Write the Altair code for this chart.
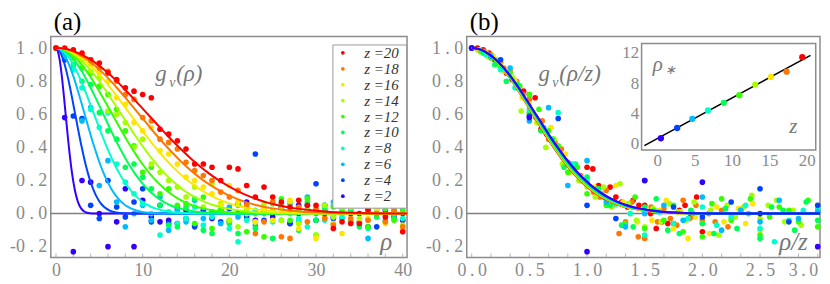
import altair as alt
import pandas as pd

FONT = "'Liberation Serif', 'Times New Roman', Times, serif"
GRAY = "#8a8a8a"

Z = [2, 4, 6, 8, 10, 12, 14, 16, 18, 20]
COLORS = ["#3300ff", "#0044ff", "#00bbff", "#00ffcc", "#00ff55",
          "#33ff00", "#a6ff00", "#ffe600", "#ff7700", "#ff0000"]
RHO = list(range(41))

G_Z2 = [1.0, 0.58, -0.23, 0.20, 0.19, 0.0, -0.20, -0.05, 0.15, -0.20, 0.08, -0.02, -0.05, -0.04, -0.06, 0.02, -0.07, 0.01, -0.03, 0.02, -0.05, 0.0, 0.07, -0.04, 0.01, -0.02, 0.03, -0.06, 0.05, 0.02, -0.04, 0.05, -0.02, 0.07, 0.0, -0.05, -0.08, 0.03, 0.0, 0.01, -0.04]
G_Z4 = [1.0, 0.93, 0.59, 0.575, 0.05, -0.03, 0.20, 0.04, -0.02, 0.07, 0.15, -0.05, 0.05, -0.06, 0.03, -0.03, -0.08, 0.02, 0.0, -0.05, 0.03, 0.06, -0.02, 0.36, -0.04, 0.01, 0.04, -0.06, 0.0, 0.05, 0.18, 0.02, -0.03, 0.07, -0.05, 0.0, 0.03, -0.08, 0.02, -0.02, 0.0]
G_Z6 = [1.0, 0.95, 0.88, 0.56, 0.64, 0.17, 0.32, 0.07, -0.08, 0.0, 0.05, -0.04, 0.10, -0.10, 0.02, -0.05, 0.08, -0.03, 0.01, -0.06, 0.04, -0.02, 0.0, -0.07, 0.03, 0.01, -0.04, 0.06, -0.05, 0.10, 0.0, 0.05, 0.07, -0.03, 0.02, 0.09, -0.15, 0.05, -0.04, 0.03, 0.04]
G_Z8 = [1.0, 0.96, 0.87, 0.76, 0.63, 0.52, 0.61, 0.30, 0.19, 0.12, 0.06, 0.0, -0.13, 0.01, -0.06, -0.03, 0.04, -0.07, -0.02, 0.05, -0.09, -0.17, -0.04, 0.02, 0.03, -0.05, 0.06, 0.0, -0.03, -0.08, 0.02, -0.04, 0.05, -0.02, 0.04, -0.07, -0.09, 0.01, 0.12, 0.0, -0.03]
G_Z10 = [1.0, 0.97, 0.90, 0.80, 0.78, 0.61, 0.50, 0.45, 0.28, 0.30, 0.22, 0.15, 0.05, -0.07, -0.08, 0.04, 0.09, -0.10, -0.12, 0.02, -0.06, -0.12, 0.03, -0.09, 0.0, -0.15, 0.04, 0.02, -0.10, 0.07, -0.04, 0.03, -0.06, 0.05, 0.01, -0.08, 0.04, -0.02, 0.06, -0.03, 0.02]
G_Z12 = [1.0, 0.98, 0.94, 0.88, 0.85, 0.77, 0.72, 0.63, 0.50, 0.41, 0.25, 0.28, 0.12, 0.15, 0.05, 0.06, -0.06, 0.10, -0.09, 0.02, -0.04, 0.05, -0.11, 0.0, -0.14, 0.06, 0.09, -0.04, 0.02, 0.09, -0.13, -0.02, 0.04, 0.02, -0.05, 0.08, -0.08, 0.0, 0.03, -0.04, 0.01]
G_Z14 = [1.0, 0.98, 0.95, 0.93, 0.86, 0.82, 0.62, 0.60, 0.55, 0.40, 0.45, 0.30, 0.25, 0.20, 0.16, 0.10, 0.16, 0.04, 0.18, 0.06, -0.04, -0.08, 0.03, -0.05, 0.06, 0.01, -0.04, 0.07, -0.06, 0.02, -0.13, 0.05, -0.02, 0.04, 0.11, -0.03, 0.05, 0.08, -0.05, 0.02, -0.07]
G_Z16 = [1.0, 0.99, 0.97, 0.95, 0.90, 0.85, 0.80, 0.70, 0.66, 0.55, 0.50, 0.52, 0.38, 0.36, 0.30, 0.22, 0.20, 0.16, 0.12, 0.05, 0.17, 0.07, 0.0, -0.05, 0.03, -0.04, 0.02, 0.08, -0.09, 0.01, -0.15, -0.02, -0.06, -0.12, 0.04, -0.05, -0.03, 0.03, -0.06, 0.06, -0.10]
G_Z18 = [1.0, 0.99, 0.98, 0.96, 0.91, 0.88, 0.86, 0.80, 0.72, 0.69, 0.58, 0.56, 0.45, 0.43, 0.39, 0.31, 0.26, 0.23, 0.20, 0.13, 0.10, 0.14, 0.05, -0.12, -0.05, 0.07, -0.14, -0.15, 0.04, -0.05, 0.03, -0.03, -0.07, 0.08, -0.03, 0.05, -0.04, 0.0, -0.05, 0.02, -0.08]
G_Z20 = [1.0, 1.0, 0.99, 0.97, 0.93, 0.91, 0.85, 0.81, 0.76, 0.74, 0.72, 0.70, 0.51, 0.48, 0.44, 0.39, 0.30, 0.30, 0.28, 0.20, 0.28, 0.27, 0.17, 0.10, 0.16, 0.10, 0.07, 0.04, 0.08, 0.05, 0.05, 0.0, -0.09, -0.05, -0.06, -0.06, 0.02, 0.05, -0.02, 0.10, -0.11]
SERIES = [G_Z2, G_Z4, G_Z6, G_Z8, G_Z10, G_Z12, G_Z14, G_Z16, G_Z18, G_Z20]

# fitted master curve g(rho/z)
U = [0, .05, .1, .15, .2, .25, .3, .35, .4, .45, .5, .55, .6, .65, .7, .75, .8, .85,
     .9, .95, 1.0, 1.05, 1.1, 1.15, 1.2, 1.25, 1.3, 1.35, 1.4, 1.5, 1.6, 1.7, 1.8,
     2.0, 2.5, 3.0, 20.0]
G = [1, .996, .983, .961, .933, .897, .855, .808, .756, .702, .646, .590, .534, .478,
     .425, .375, .327, .283, .243, .207, .175, .146, .121, .0995, .081, .065, .052,
     .0415, .033, .020, .011, .0065, .0035, .001, 0, 0, 0]
FIT_SCALE = [1.03, 1.025, 1.02, 1.015, 1.01, 1.0, 0.995, 0.99, 0.985, 0.98]

# inset: rho_* versus z
INSET_X = [0.48, 2.66, 4.69, 6.78, 8.9, 10.98, 13.1, 15.2, 17.3, 19.4]
INSET_Y = [0.74, 2.09, 3.3, 4.4, 5.4, 6.4, 7.8, 8.8, 9.5, 11.4]
LINE_X = [-1.73, 20.5]
LINE_Y = [-0.22, 11.65]
INSET_XDOM = [-2.1, 21.2]
INSET_YDOM = [-0.8, 13.2]

# minor tick positions on the bottom frames
TICKS_A = [0, 2, 4, 6, 8, 10, 12, 14, 16, 18, 20, 22, 24, 26, 28, 30, 32, 34, 36, 38, 40]
TICKS_B = [0, 0.1667, 0.3333, 0.5, 0.6667, 0.8333, 1.0, 1.1667, 1.3333, 1.5, 1.6667,
           1.8333, 2.0, 2.1667, 2.3333, 2.5, 2.6667, 2.8333, 3.0]

# ---------- tables ----------
rows = []
for z, vals in zip(Z, SERIES):
    for r, v in zip(RHO, vals):
        rows.append({"z": z, "rho": r, "g": v, "u": r / z})
pts = pd.DataFrame(rows)
pts_b = pts[pts["u"] <= 3.05].iloc[::-1].reset_index(drop=True)

crow = []
for i, (z, s) in enumerate(zip(Z, FIT_SCALE)):
    for k, (u, g) in enumerate(zip(U, G)):
        crow.append({"z": z, "k": k, "xa": u * s * z, "xb": u * s, "g": g})
curves = pd.DataFrame(crow)
curves_b = pd.concat([curves[curves["z"] == z] for z in Z[::-1]], ignore_index=True)
inset = pd.DataFrame({"z": Z, "x": INSET_X, "y": INSET_Y})
line = pd.DataFrame({"x": LINE_X, "y": LINE_Y})
frame = pd.DataFrame({"x": [INSET_XDOM[0]], "x2": [INSET_XDOM[1]],
                      "y": [INSET_YDOM[0]], "y2": [INSET_YDOM[1]]})
zero = pd.DataFrame({"y": [0.0]})
one = pd.DataFrame({"a": [0]})
ticks_a = pd.DataFrame({"t": TICKS_A})
ticks_b = pd.DataFrame({"t": TICKS_B})

Z_DESC = Z[::-1]
COL_DESC = COLORS[::-1]


def color(legend=None):
    return alt.Color("z:N", scale=alt.Scale(domain=Z_DESC, range=COL_DESC), legend=legend)


def axis(values, expr, size=18, pad=4, **kw):
    return alt.Axis(values=values, labelExpr=expr, grid=False, domain=False, ticks=False,
                    labelFont=FONT, labelFontSize=size, labelColor=GRAY, labelPadding=pad,
                    title=None, labelFlush=False, labelOverlap=False, **kw)


def txt(s, x, y, size=22, italic=True, color="#777777"):
    return alt.Chart(one).mark_text(
        text=s, align="left", baseline="alphabetic", font=FONT, fontSize=size,
        fontStyle="italic" if italic else "normal", color=color
    ).encode(x=alt.value(x), y=alt.value(y))


YEXPR = "replace(replace(format(datum.value, '.1f'), '\u2212', '-'), '.', ' . ')"
Y_AX = axis([-0.2, 0, 0.2, 0.4, 0.6, 0.8, 1.0], YEXPR)
Y_SC = alt.Scale(domain=[-0.265, 1.07], nice=False, zero=False)
TITLE_KW = dict(anchor="start", frame="group", font=FONT, fontSize=25,
                fontWeight="normal", color="black", offset=2, dx=3)

# ---------- panel (a) ----------
xa_sc = alt.Scale(domain=[-0.6, 40.5], nice=False, zero=False)
xa_ax = axis([0, 10, 20, 30, 40], "datum.label", pad=4)
legend = alt.Legend(orient="none", legendX=283, legendY=8, title=None,
                    symbolType="circle", symbolSize=14, symbolStrokeWidth=0,
                    labelFont=FONT, labelFontStyle="italic", labelFontSize=15,
                    labelColor="#333333", labelExpr="'z  =' + datum.label",
                    clipHeight=10.8, rowPadding=0, labelOffset=14, padding=3,
                    strokeColor="#999999", fillColor="white", symbolOpacity=1)

a_zero = alt.Chart(zero).mark_rule(color="#808080", strokeWidth=1.5).encode(
    y=alt.Y("y:Q", scale=Y_SC, axis=Y_AX))
a_ticks = alt.Chart(ticks_a).mark_tick(color="#999999", thickness=1, size=4).encode(
    x=alt.X("t:Q", scale=xa_sc, axis=xa_ax), y=alt.value(220))
a_pts = alt.Chart(pts).mark_circle(size=32, opacity=1).encode(
    x=alt.X("rho:Q", scale=xa_sc, axis=xa_ax),
    y=alt.Y("g:Q", scale=Y_SC, axis=Y_AX),
    color=color(legend))
a_cur = alt.Chart(curves).mark_line(strokeWidth=2, interpolate="monotone", clip=True).encode(
    x=alt.X("xa:Q", scale=xa_sc, axis=xa_ax),
    y=alt.Y("g:Q", scale=Y_SC, axis=Y_AX),
    color=color(None), order="k:Q")
panel_a = alt.layer(
    a_zero, a_ticks, a_pts, a_cur,
    txt("g", 105, 45, 23), txt("\u03bd", 119, 51, 14), txt("(\u03c1)", 126, 45, 23),
    txt("\u03c1", 331, 215, 25),
).properties(width=358, height=222, title=alt.TitleParams("(a)", **TITLE_KW))

# ---------- panel (b) ----------
xb_sc = alt.Scale(domain=[-0.043, 3.02], nice=False, zero=False)
xb_ax = axis([0, 0.5, 1.0, 1.5, 2.0, 2.5, 3.0],
             "replace(format(datum.value, '.1f'), '.', '\u2009.\u2009')", pad=4,
             labelAlign={"condition": {"test": "datum.value >= 3", "value": "right"},
                         "value": "center"})
b_zero = alt.Chart(zero).mark_rule(color="#808080", strokeWidth=1.5).encode(
    y=alt.Y("y:Q", scale=Y_SC, axis=Y_AX))
b_ticks = alt.Chart(ticks_b).mark_tick(color="#999999", thickness=1, size=4).encode(
    x=alt.X("t:Q", scale=xb_sc, axis=xb_ax), y=alt.value(220))
b_pts = alt.Chart(pts_b).mark_circle(size=32, opacity=1).encode(
    x=alt.X("u:Q", scale=xb_sc, axis=xb_ax),
    y=alt.Y("g:Q", scale=Y_SC, axis=Y_AX),
    color=color(None))
b_cur = alt.Chart(curves_b).mark_line(strokeWidth=2, interpolate="monotone", clip=True).encode(
    x=alt.X("xb:Q", scale=xb_sc, axis=xb_ax),
    y=alt.Y("g:Q", scale=Y_SC, axis=Y_AX),
    color=color(None), order="k:Q")
b_main = alt.layer(
    b_zero, b_ticks, b_pts, b_cur,
    txt("g", 72, 45, 23), txt("\u03bd", 86, 51, 14), txt("(\u03c1/z)", 93, 45, 23),
    txt("\u03c1/z", 314, 215, 25),
)

# ---------- inset (inside panel b) ----------
xi_sc = alt.Scale(domain=INSET_XDOM, range=[175.7, 350.7], nice=False, zero=False)
yi_sc = alt.Scale(domain=INSET_YDOM, range=[114, 7], nice=False, zero=False)
xi_ax = axis([0, 5, 10, 15, 20], "datum.label", size=17, pad=3, orient="bottom", offset=-108)
yi_ax = axis([0, 4, 8, 12], "datum.label", size=17, pad=3, orient="left", offset=-175.7)
i_frame = alt.Chart(frame).mark_rect(fill="white", stroke="#8c8c8c", strokeWidth=1.5).encode(
    x=alt.X("x:Q", scale=xi_sc, axis=xi_ax), x2="x2:Q",
    y=alt.Y("y:Q", scale=yi_sc, axis=yi_ax), y2="y2:Q")
i_line = alt.Chart(line).mark_line(color="black", strokeWidth=1.5).encode(
    x=alt.X("x:Q", scale=xi_sc, axis=xi_ax), y=alt.Y("y:Q", scale=yi_sc, axis=yi_ax))
i_pts = alt.Chart(inset).mark_circle(size=40, opacity=1).encode(
    x=alt.X("x:Q", scale=xi_sc, axis=xi_ax), y=alt.Y("y:Q", scale=yi_sc, axis=yi_ax),
    color=color(None))
i_layer = alt.layer(
    i_frame, i_line, i_pts,
    txt("\u03c1", 187, 35, 21), txt("\u2217", 199, 38, 13),
    txt("z", 324, 97, 21),
)

panel_b = alt.layer(b_main, i_layer).resolve_scale(
    x="independent", y="independent", color="independent"
).properties(width=355, height=222, title=alt.TitleParams("(b)", **TITLE_KW))

chart = alt.hconcat(panel_a, panel_b, spacing=11).resolve_scale(
    x="independent", y="independent", color="independent"
).properties(padding=0, background="white").configure_view(
    stroke="#8c8c8c", strokeWidth=1.5, fill="white")

chart.save("out.html", embed_options={"renderer": "svg", "actions": False})
